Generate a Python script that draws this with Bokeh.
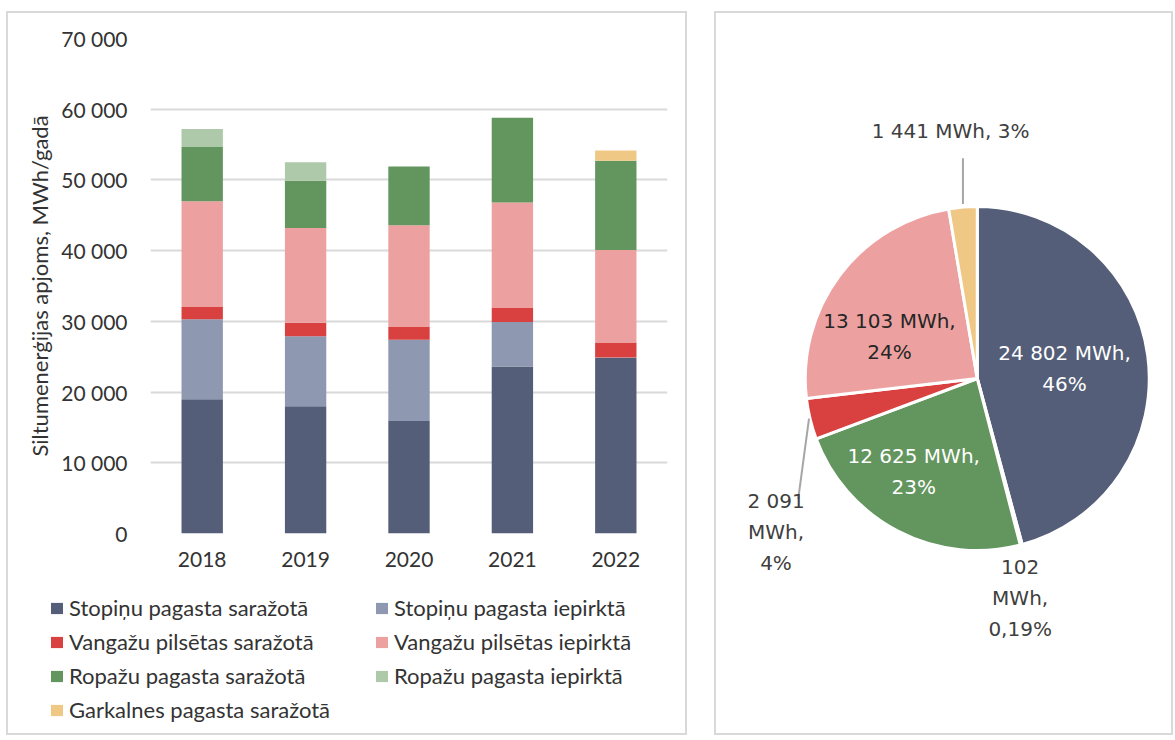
import math
from bokeh.plotting import figure
from bokeh.models import (FactorRange, Range1d, Legend, LegendItem,
                          CustomJSTickFormatter, ColumnDataSource)
from bokeh.layouts import row, column
from bokeh.embed import file_html
from bokeh.resources import INLINE
from bokeh.core.properties import value

# ---------------- data ----------------
years = ["2018", "2019", "2020", "2021", "2022"]
series_names = [
    "Stopiņu pagasta saražotā",
    "Stopiņu pagasta iepirktā",
    "Vangažu pilsētas saražotā",
    "Vangažu pilsētas iepirktā",
    "Ropažu pagasta saražotā",
    "Ropažu pagasta iepirktā",
    "Garkalnes pagasta saražotā",
]
stopinu_sarazota = [19000, 18000, 15900, 23600, 24802]
stopinu_iepirkta = [11300, 9900, 11500, 6300, 102]
vangazu_sarazota = [1800, 1900, 1800, 2060, 2091]
vangazu_iepirkta = [14900, 13400, 14400, 14840, 13103]
ropazu_sarazota = [7650, 6700, 8300, 12000, 12625]
ropazu_iepirkta = [2550, 2600, 0, 0, 0]
garkalnes_sarazota = [0, 0, 0, 0, 1441]
series_colors = ["#545e78", "#8e98b0", "#d94040", "#eca1a0",
                 "#63955e", "#aec9a9", "#f0c886"]
y_ticks = [0, 10000, 20000, 30000, 40000, 50000, 60000, 70000]
y_axis_title = "Siltumenerģijas apjoms, MWh/gadā"

pie_values = [24802, 102, 12625, 2091, 13103, 1441]
pie_colors = ["#545e78", "#8e98b0", "#63955e", "#d94040", "#eca1a0", "#f0c886"]
pie_texts = ["24 802 MWh,\n46%", "102\nMWh,\n0,19%", "12 625 MWh,\n23%",
             "2 091\nMWh,\n4%", "13 103 MWh,\n24%", "1 441 MWh, 3%"]

# ---------------- styles / layout ----------------
LAT = "Lato"
TXT = "#333333"
BORDER = {"border": "2px solid #d9d9d9"}
W1 = 677          # inner width of left panel
HB, HL = 567, 153  # bar-chart part / legend part heights
H = 724           # outer height of right panel
W2 = 459          # outer width of right panel
GAP = 27

# ---------------- bar chart ----------------
keys = ["s0", "s1", "s2", "s3", "s4", "s5", "s6"]
src = ColumnDataSource(dict(years=years, s0=stopinu_sarazota, s1=stopinu_iepirkta,
                            s2=vangazu_sarazota, s3=vangazu_iepirkta,
                            s4=ropazu_sarazota, s5=ropazu_iepirkta,
                            s6=garkalnes_sarazota))

p = figure(x_range=FactorRange(*years), y_range=Range1d(0, 70000),
           width=W1, height=HB, output_backend="svg", toolbar_location=None,
           min_border_left=142, min_border_right=18, min_border_top=25,
           min_border_bottom=47)
p.frame_align = False
p.vbar_stack(keys, x="years", width=0.4, source=src,
             color=series_colors, line_color=None)

p.outline_line_color = None
p.xgrid.grid_line_color = None
p.ygrid.grid_line_color = "#d9d9d9"
p.ygrid.grid_line_width = 2
p.yaxis.ticker = y_ticks
p.yaxis.formatter = CustomJSTickFormatter(
    code="return tick.toString().replace(/\\B(?=(\\d{3})+(?!\\d))/g, ' ');")
for ax in (p.xaxis[0], p.yaxis[0]):
    ax.axis_line_color = None
    ax.major_tick_line_color = None
    ax.minor_tick_line_color = None
    ax.major_tick_in = 0
    ax.major_tick_out = 0
    ax.major_label_text_font = LAT
    ax.major_label_text_font_size = "21px"
    ax.major_label_text_color = TXT
p.yaxis.major_label_standoff = 23
p.xaxis.major_label_standoff = 18
p.yaxis.axis_label = y_axis_title
p.yaxis.axis_label_text_font = LAT
p.yaxis.axis_label_text_font_size = "22px"
p.yaxis.axis_label_text_font_style = "normal"
p.yaxis.axis_label_text_color = TXT
p.yaxis.axis_label_standoff = 5

# ---------------- legend (below the bars) ----------------
pl = figure(x_range=Range1d(0, 1), y_range=Range1d(0, 1), width=W1, height=HL,
            output_backend="svg", toolbar_location=None,
            x_axis_location=None, y_axis_location=None,
            min_border_left=41, min_border_top=14, min_border_right=0,
            min_border_bottom=0)
pl.frame_align = False
pl.outline_line_color = None
pl.grid.grid_line_color = None
# zero-height swatch renderers: they only provide the legend's colour boxes
swatches = [pl.vbar(x=[0], top=[0], bottom=[0], width=0.1, fill_color=c,
                    line_color=None) for c in series_colors]
legend = Legend(items=[LegendItem(label=n, renderers=[r])
                       for n, r in zip(series_names, swatches)],
                orientation="horizontal", ncols=2, location="top_left",
                glyph_width=15, glyph_height=14, label_standoff=5,
                label_width=298, label_height=26, spacing=7,
                padding=0, margin=0, border_line_color=None,
                background_fill_alpha=0,
                label_text_font=LAT, label_text_font_size="22px",
                label_text_color=TXT)
pl.add_layout(legend, "center")

left = column(p, pl, spacing=0)
left.styles = BORDER

# ---------------- pie chart ----------------
R = 170.5
CX, CY = 258.5, 363   # pie centre, px from the panel's inner top-left
q = figure(x_range=Range1d(-CX, W2 - 4 - CX), y_range=Range1d(CY - (H - 4), CY),
           width=W2, height=H, output_backend="svg", toolbar_location=None,
           x_axis_location=None, y_axis_location=None, min_border=0)
q.frame_align = False
q.styles = BORDER
q.outline_line_color = None
q.grid.grid_line_color = None

total = float(sum(pie_values))
starts, ends, cum = [], [], 0.0
for v in pie_values:
    starts.append(math.pi / 2 - 2 * math.pi * cum / total)
    cum += v
    ends.append(math.pi / 2 - 2 * math.pi * cum / total)
q.wedge(x=0, y=0, radius=R, start_angle=starts, end_angle=ends,
        direction="clock", fill_color=pie_colors, line_color="white",
        line_width=3)

# leader lines
q.segment(x0=[-14.2, -166.8], y0=[173.5, -40], x1=[-14.2, -177.5], y1=[219, -120],
          line_color="#a6a6a6", line_width=2)

label_x = [86.5, 42.5, -63, -199.5, -87, -26.5]
label_y = [10, -218.5, -92.5, -152.5, 41.5, 246.5]
label_col = ["#ffffff", "#404040", "#ffffff", "#404040", "#262626", "#404040"]
q.text(x=label_x, y=label_y, text=pie_texts, text_color=label_col,
       text_align="center", text_baseline="middle",
       text_font=value("DejaVu Sans"), text_font_size="20px",
       text_line_height=1.3)

layout = row(left, q, spacing=GAP)
layout.styles = {"margin-left": "6px", "margin-top": "11px"}
open("out.html", "w").write(file_html(layout, INLINE))
